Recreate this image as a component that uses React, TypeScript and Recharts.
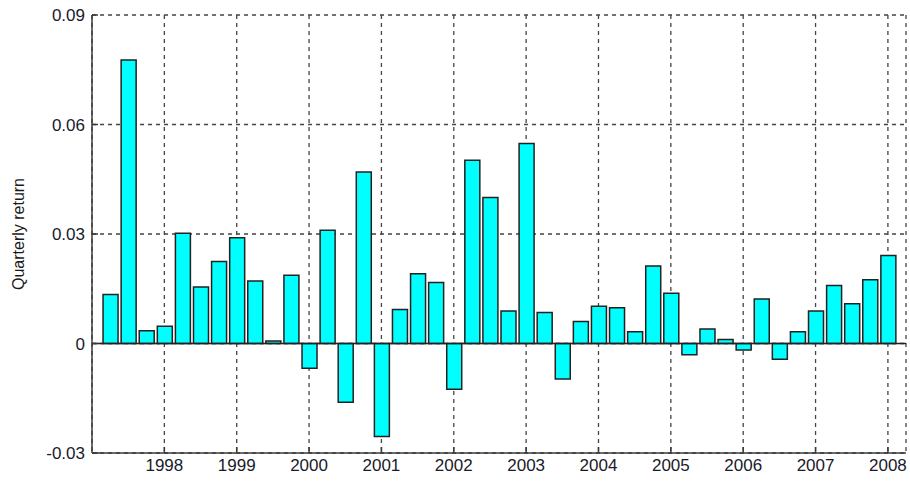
import React from "react";
import {
  Bar,
  BarChart,
  CartesianGrid,
  ReferenceLine,
  XAxis,
  YAxis,
} from "recharts";

// quarterly returns, 1997Q1 .. 2007Q4, plotted at quarter end
const quarters = [
  "1997Q1", "1997Q2", "1997Q3", "1997Q4",
  "1998Q1", "1998Q2", "1998Q3", "1998Q4",
  "1999Q1", "1999Q2", "1999Q3", "1999Q4",
  "2000Q1", "2000Q2", "2000Q3", "2000Q4",
  "2001Q1", "2001Q2", "2001Q3", "2001Q4",
  "2002Q1", "2002Q2", "2002Q3", "2002Q4",
  "2003Q1", "2003Q2", "2003Q3", "2003Q4",
  "2004Q1", "2004Q2", "2004Q3", "2004Q4",
  "2005Q1", "2005Q2", "2005Q3", "2005Q4",
  "2006Q1", "2006Q2", "2006Q3", "2006Q4",
  "2007Q1", "2007Q2", "2007Q3", "2007Q4",
];

const returns = [
  0.0134, 0.0777, 0.0035, 0.0047,
  0.0302, 0.0155, 0.0225, 0.029,
  0.0171, 0.0007, 0.0187, -0.0068,
  0.031, -0.0161, 0.047, -0.0255,
  0.0093, 0.0191, 0.0167, -0.0125,
  0.0502, 0.04, 0.0089, 0.0548,
  0.0085, -0.0097, 0.006, 0.0102,
  0.0098, 0.0032, 0.0212, 0.0138,
  -0.0031, 0.004, 0.0011, -0.0018,
  0.0122, -0.0043, 0.0032, 0.0089,
  0.0159, 0.0109, 0.0175, 0.0241,
];

const yearTicks = [1998, 1999, 2000, 2001, 2002, 2003, 2004, 2005, 2006, 2007, 2008];
const returnTicks = [-0.03, 0, 0.03, 0.06, 0.09];
const xDomain = [1997, 2008.25];
const yDomain = [-0.03, 0.09];

const data = quarters.map((q, i) => {
  const year = Number(q.slice(0, 4));
  const qn = Number(q.slice(5));
  return { t: year + qn / 4, value: returns[i] };
});

const FONT = "'Liberation Sans', Arial, sans-serif";
const tickStyle = { fontFamily: FONT, fontSize: 17, fill: "#1a1a2a" };
const AXIS = "#3a3a3a";

function YLabel({ viewBox }: any) {
  const cx = viewBox.x + 18;
  const cy = viewBox.y + viewBox.height / 2;
  return (
    <text
      x={cx}
      y={cy}
      transform={`rotate(-90, ${cx}, ${cy})`}
      textAnchor="middle"
      dominantBaseline="central"
      style={{ fontFamily: FONT, fontSize: 16, fill: "#1a1a1a" }}
    >
      Quarterly return
    </text>
  );
}

export default function App() {
  return (
    <div style={{ position: "absolute", left: 0, top: 0, background: "#fff" }}>
      <BarChart
        width={910}
        height={485}
        data={data}
        margin={{ top: 15, right: 4, bottom: 0, left: 0 }}
      >
        <CartesianGrid
          stroke="#444"
          strokeDasharray="4 4"
          strokeWidth={1.3}
        />
        <XAxis
          dataKey="t"
          type="number"
          domain={xDomain}
          ticks={yearTicks}
          allowDataOverflow
          height={32}
          tick={tickStyle}
          tickSize={-6}
          tickMargin={12}
          tickLine={{ stroke: AXIS, strokeWidth: 1.5 }}
          axisLine={{ stroke: AXIS, strokeWidth: 1.5 }}
        />
        <XAxis
          xAxisId="top"
          orientation="top"
          dataKey="t"
          type="number"
          domain={xDomain}
          ticks={yearTicks}
          allowDataOverflow
          height={0}
          tick={false}
          tickLine={false}
          axisLine={{ stroke: AXIS, strokeWidth: 1.5 }}
        />
        <YAxis
          type="number"
          domain={yDomain}
          ticks={returnTicks}
          allowDataOverflow
          width={92}
          tick={tickStyle}
          tickSize={-6}
          tickMargin={13}
          tickLine={{ stroke: AXIS, strokeWidth: 1.5 }}
          axisLine={{ stroke: AXIS, strokeWidth: 1.5 }}
          label={<YLabel />}
        />
        <YAxis
          yAxisId="right"
          orientation="right"
          type="number"
          domain={yDomain}
          ticks={returnTicks}
          allowDataOverflow
          width={0}
          tick={false}
          tickLine={false}
          axisLine={{ stroke: AXIS, strokeWidth: 1.5 }}
        />
        <ReferenceLine y={0} stroke="#222" strokeWidth={1.5} />
        <Bar
          dataKey="value"
          barSize={15}
          fill="#00ffff"
          stroke="#222"
          strokeWidth={1.5}
          isAnimationActive={false}
        />
      </BarChart>
    </div>
  );
}
